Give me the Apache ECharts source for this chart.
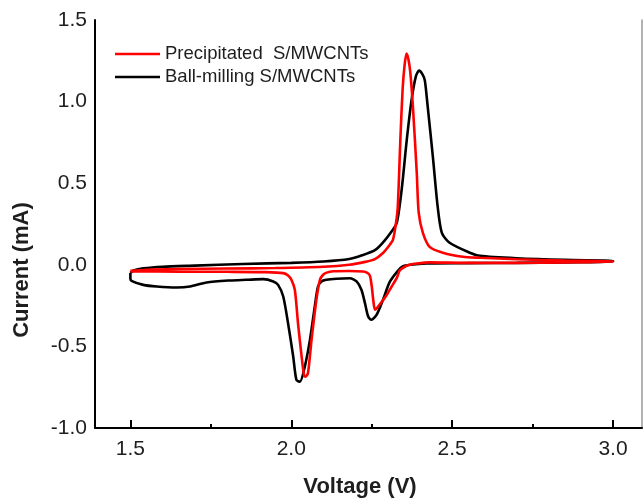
<!DOCTYPE html>
<html>
<head>
<meta charset="utf-8">
<title>Cyclic voltammetry of S/MWCNTs</title>
<script src="https://cdn.jsdelivr.net/npm/echarts@6/dist/echarts.min.js"></script>
<style>
  html, body { margin: 0; padding: 0; background: #fff; }
  #chart { width: 644px; height: 498px; }
</style>
</head>
<body>
<div id="chart"></div>
<script>
// Precipitated S/MWCNTs: anodic sweep 1.5 -> 3.0 V, then cathodic sweep back to 1.5 V
const precipVoltage = [
  1.50, 1.55, 1.65, 1.80, 1.95, 2.10, 2.18, 2.23, 2.26, 2.285, 2.305, 2.316, 2.325, 2.331,
  2.339, 2.346, 2.352, 2.358, 2.364, 2.370, 2.378, 2.390, 2.396, 2.409, 2.430, 2.471, 2.533,
  2.586, 2.70, 2.85, 3.00,
  3.00, 2.85, 2.70, 2.55, 2.43, 2.39, 2.368, 2.350, 2.337, 2.328, 2.310, 2.295, 2.278, 2.266,
  2.260, 2.255, 2.250, 2.244, 2.235, 2.223, 2.18, 2.13, 2.11, 2.099, 2.089, 2.078, 2.063,
  2.052, 2.045, 2.040, 2.032, 2.021, 2.011, 2.000, 1.990, 1.975, 1.92, 1.80, 1.65, 1.50
];
const precipCurrent = [
  -0.037, -0.030, -0.026, -0.023, -0.020, -0.012, 0.000, 0.018, 0.035, 0.072, 0.120, 0.153, 0.250, 0.356,
  0.767, 1.074, 1.220, 1.294, 1.260, 1.178, 0.969, 0.564, 0.319, 0.196, 0.110, 0.074, 0.049,
  0.043, 0.034, 0.026, 0.020,
  0.018, 0.014, 0.012, 0.012, 0.015, 0.008, 0.000, -0.015, -0.035, -0.080, -0.140, -0.190, -0.235, -0.265,
  -0.275, -0.220, -0.130, -0.065, -0.048, -0.041, -0.038, -0.040, -0.048, -0.061, -0.092, -0.215, -0.460,
  -0.663, -0.685, -0.680, -0.560, -0.360, -0.153, -0.090, -0.065, -0.051, -0.045, -0.043, -0.042, -0.040
];

// Ball-milling S/MWCNTs: same sweep sequence
const ballVoltage = [
  1.50, 1.51, 1.54, 1.60, 1.70, 1.85, 2.00, 2.10, 2.18, 2.22, 2.26, 2.284, 2.310, 2.328,
  2.343, 2.359, 2.374, 2.387, 2.397, 2.407, 2.415, 2.424, 2.440, 2.455, 2.468, 2.492, 2.555,
  2.586, 2.70, 2.85, 3.00,
  3.00, 2.85, 2.70, 2.55, 2.42, 2.37, 2.346, 2.330, 2.306, 2.285, 2.265, 2.249, 2.239, 2.229,
  2.218, 2.203, 2.182, 2.14, 2.109, 2.094, 2.083, 2.073, 2.058, 2.042, 2.027, 2.016, 2.006,
  1.990, 1.975, 1.959, 1.944, 1.913, 1.861, 1.809, 1.737, 1.685, 1.644, 1.582, 1.540, 1.505,
  1.500, 1.500
];
const ballCurrent = [
  -0.050, -0.035, -0.022, -0.012, -0.005, 0.005, 0.012, 0.020, 0.035, 0.058, 0.090, 0.135, 0.200, 0.258,
  0.460, 0.767, 1.012, 1.153, 1.190, 1.170, 1.130, 0.969, 0.663, 0.356, 0.196, 0.135, 0.074,
  0.055, 0.040, 0.030, 0.025,
  0.020, 0.015, 0.012, 0.010, 0.008, 0.000, -0.010, -0.040, -0.105, -0.215, -0.307, -0.337, -0.317, -0.235,
  -0.153, -0.102, -0.082, -0.085, -0.092, -0.102, -0.133, -0.256, -0.460, -0.624, -0.716, -0.706, -0.562,
  -0.358, -0.194, -0.123, -0.102, -0.088, -0.092, -0.096, -0.108, -0.133, -0.139, -0.133, -0.123, -0.100,
  -0.085, -0.050
];

const seriesNames = ['Precipitated  S/MWCNTs', 'Ball-milling S/MWCNTs'];
const majorTicks = [1.5, 2.0, 2.5, 3.0];
const minorTicks = [1.75, 2.25, 2.75];
const xTitle = 'Voltage (V)';
const yTitle = 'Current (mA)';

const pairs = (xs, ys) => xs.map((x, i) => [x, ys[i]]);
const textColor = '#1e1e1e';
const fontFamily = '"Liberation Sans", Arial, Helvetica, sans-serif';

const chart = echarts.init(document.getElementById('chart'), null, { renderer: 'canvas' });

chart.setOption({
  animation: false,
  backgroundColor: '#ffffff',
  textStyle: { fontFamily: fontFamily },
  grid: { left: 95, right: 2, top: 20, bottom: 70, containLabel: false },
  legend: {
    data: seriesNames,
    orient: 'vertical',
    left: 115,
    top: 44,
    padding: 0,
    itemWidth: 45,
    itemHeight: 14,
    itemGap: 3,
    textStyle: { fontSize: 18.5, color: textColor, lineHeight: 20, fontFamily: fontFamily },
    icon: 'path://M0,6 L45,6 L45,8.6 L0,8.6 Z'
  },
  xAxis: [
    {
      type: 'value',
      min: 1.39,
      max: 3.09,
      position: 'bottom',
      axisLine: { show: true, onZero: false, lineStyle: { color: '#000', width: 2 } },
      axisTick: { show: true, inside: true, length: 8, customValues: majorTicks, lineStyle: { color: '#000', width: 2 } },
      axisLabel: {
        show: true, customValues: majorTicks, margin: 11,
        fontSize: 21, color: textColor, fontFamily: fontFamily,
        formatter: v => v.toFixed(1)
      },
      splitLine: { show: false }
    },
    {
      type: 'value',
      min: 1.39,
      max: 3.09,
      position: 'bottom',
      axisLine: { show: false, onZero: false },
      axisTick: { show: true, inside: true, length: 4, customValues: minorTicks, lineStyle: { color: '#000', width: 2 } },
      axisLabel: { show: false },
      splitLine: { show: false }
    }
  ],
  yAxis: [
    {
      type: 'value',
      min: -1.0,
      max: 1.5,
      interval: 0.5,
      axisLine: { show: true, onZero: false, lineStyle: { color: '#000', width: 2 } },
      axisTick: { show: false },
      axisLabel: {
        margin: 8, fontSize: 21, color: textColor, fontFamily: fontFamily,
        formatter: v => v.toFixed(1)
      },
      splitLine: { show: false }
    },
    {
      type: 'value',
      min: -1.0,
      max: 1.5,
      interval: 0.5,
      position: 'right',
      axisLine: { show: true, onZero: false, lineStyle: { color: '#9a9a9a', width: 1.5 } },
      axisTick: { show: false },
      axisLabel: { show: false },
      splitLine: { show: false }
    }
  ],
  graphic: [
    {
      type: 'text',
      x: 360, y: 487,
      style: {
        text: xTitle, fill: textColor, fontSize: 22, fontWeight: 'bold',
        fontFamily: fontFamily, align: 'center', verticalAlign: 'middle'
      }
    },
    {
      type: 'text',
      x: 22, y: 270,
      rotation: Math.PI / 2,
      style: {
        text: yTitle, fill: textColor, fontSize: 22, fontWeight: 'bold',
        fontFamily: fontFamily, align: 'center', verticalAlign: 'middle'
      }
    }
  ],
  series: [
    {
      name: seriesNames[1],
      type: 'line',
      xAxisIndex: 0,
      yAxisIndex: 0,
      data: pairs(ballVoltage, ballCurrent),
      showSymbol: false,
      symbol: 'none',
      smooth: 0.25,
      lineStyle: { color: '#000000', width: 2.6 },
      itemStyle: { color: '#000000' },
      z: 2
    },
    {
      name: seriesNames[0],
      type: 'line',
      xAxisIndex: 0,
      yAxisIndex: 0,
      data: pairs(precipVoltage, precipCurrent),
      showSymbol: false,
      symbol: 'none',
      smooth: 0.25,
      lineStyle: { color: '#ff0000', width: 2.6 },
      itemStyle: { color: '#ff0000' },
      z: 3
    }
  ]
});
</script>
</body>
</html>
